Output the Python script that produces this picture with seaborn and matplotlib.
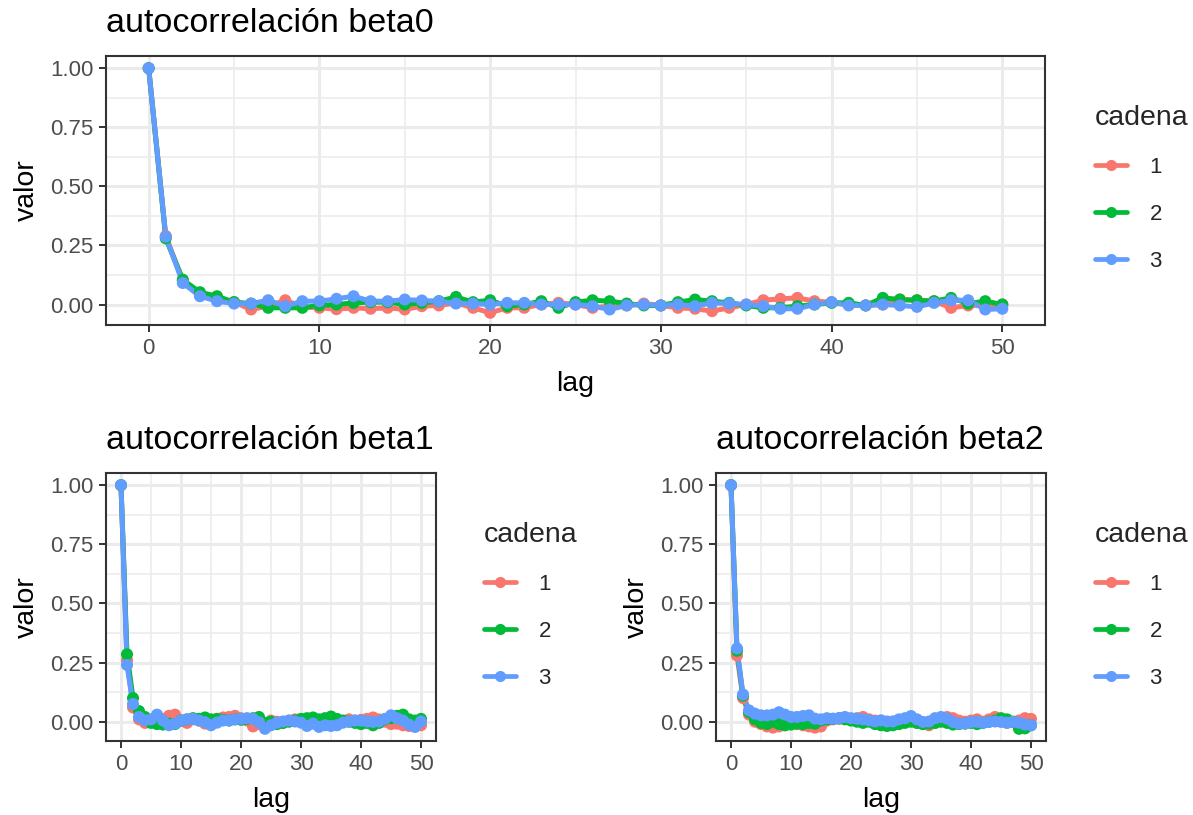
import numpy as np
import pandas as pd
import matplotlib
matplotlib.use("Agg")
import matplotlib.pyplot as plt
from matplotlib.lines import Line2D
import seaborn as sns

sns.set_theme(style="white")
plt.rcParams['font.family'] = ['Liberation Sans', 'DejaVu Sans']

chains = ["1", "2", "3"]
colors = ["#F8766D", "#00BA38", "#619CFF"]
titles = ["autocorrelación beta0", "autocorrelación beta1", "autocorrelación beta2"]
x_ticks = [0, 10, 20, 30, 40, 50]
y_ticks = [0.0, 0.25, 0.5, 0.75, 1.0]
y_tick_labels = ["0.00", "0.25", "0.50", "0.75", "1.00"]

beta0_c1 = [1.0, 0.29, 0.10, 0.045, 0.02, 0.01, -0.021, -0.007, 0.018, -0.010, -0.014, -0.020, -0.014,
            -0.018, -0.014, -0.021, -0.007, -0.004, 0.007, -0.014, -0.035, -0.014, -0.014, 0.0, 0.007,
            0.0, -0.014, -0.007, -0.004, 0.004, -0.004, -0.014, -0.018, -0.028, -0.014, 0.0, 0.018,
            0.024, 0.028, 0.014, 0.010, 0.0, -0.004, 0.0, 0.021, 0.018, 0.014, -0.014, -0.004, -0.004, 0.0]
beta0_c2 = [1.0, 0.28, 0.105, 0.052, 0.035, 0.01, 0.004, -0.014, -0.014, -0.014, -0.004, 0.0, 0.007,
            0.010, 0.010, 0.0, 0.007, 0.014, 0.032, 0.010, 0.018, -0.007, 0.0, 0.014, -0.014, 0.010,
            0.018, 0.014, 0.004, -0.004, -0.004, 0.010, 0.021, 0.014, 0.007, -0.004, -0.014, -0.014,
            -0.007, 0.0, 0.007, 0.007, -0.004, 0.028, 0.021, 0.018, 0.014, 0.028, 0.004, 0.014, 0.0]
beta0_c3 = [1.0, 0.287, 0.091, 0.035, 0.014, 0.004, 0.004, 0.018, -0.007, 0.014, 0.014, 0.024, 0.035,
            0.014, 0.014, 0.021, 0.017, 0.014, 0.004, 0.004, 0.0, 0.007, 0.007, 0.0, 0.0, 0.0, -0.007,
            -0.021, -0.004, 0.0, -0.004, 0.0, -0.007, 0.007, 0.004, 0.0, -0.007, -0.018, -0.018, 0.0,
            0.010, -0.004, -0.004, 0.0, -0.004, -0.010, 0.007, 0.018, 0.018, -0.021, -0.018]

beta1_c1 = [1.0, 0.26, 0.06, 0.01, -0.005, 0.005, 0.008, 0.012, 0.025, 0.03, 0.005, -0.005, 0.01,
            0.005, -0.008, 0.0, 0.012, 0.018, 0.02, 0.025, 0.015, 0.005, -0.02, -0.01, -0.015, 0.005,
            0.0, -0.005, 0.005, 0.01, 0.0, -0.01, 0.005, 0.0, -0.005, 0.008, 0.005, 0.0, 0.01, 0.005,
            0.008, 0.012, 0.018, 0.01, 0.0, -0.01, -0.008, -0.015, -0.018, -0.02, -0.015]
beta1_c2 = [1.0, 0.285, 0.10, 0.045, 0.02, -0.005, -0.01, -0.012, -0.008, -0.01, 0.005, 0.01, 0.015,
            0.012, 0.018, 0.01, 0.012, 0.008, 0.005, 0.01, 0.008, 0.012, 0.015, 0.02, -0.005, 0.0,
            -0.01, -0.005, 0.0, 0.005, 0.012, 0.015, 0.018, 0.01, 0.015, 0.022, 0.012, 0.005, 0.0,
            -0.005, -0.01, -0.005, -0.015, -0.005, 0.01, 0.015, 0.025, 0.03, 0.01, 0.005, 0.012]
beta1_c3 = [1.0, 0.24, 0.075, 0.02, 0.006, 0.01, 0.03, 0.005, -0.015, -0.008, 0.005, 0.01, 0.012,
            0.005, -0.002, -0.015, -0.004, 0.005, 0.005, 0.01, 0.012, 0.015, 0.012, -0.002, -0.03,
            -0.015, -0.004, 0.001, 0.005, 0.001, -0.004, -0.018, -0.008, -0.022, -0.015, -0.018,
            -0.015, -0.004, 0.001, 0.005, 0.005, 0.001, -0.001, 0.001, 0.012, 0.027, 0.015, 0.005,
            -0.012, -0.022, 0.001]

beta2_c1 = [1.0, 0.28, 0.10, 0.03, 0.0, -0.01, -0.02, -0.025, -0.02, -0.015, -0.005, -0.01, -0.015,
            -0.02, -0.025, -0.02, 0.005, 0.01, 0.012, 0.015, 0.01, 0.015, 0.02, 0.01, 0.005, 0.0,
            -0.005, 0.0, 0.005, 0.01, 0.005, -0.005, -0.01, -0.015, -0.005, 0.01, 0.02, 0.015, 0.005,
            0.0, 0.005, 0.01, 0.0, 0.01, 0.02, 0.005, -0.005, 0.0, 0.005, 0.015, 0.012]
beta2_c2 = [1.0, 0.30, 0.11, 0.04, 0.01, -0.005, -0.01, 0.0, -0.01, -0.015, -0.012, -0.008, -0.01,
            -0.005, -0.008, 0.005, 0.01, 0.012, 0.015, 0.01, 0.005, 0.0, -0.005, 0.0, -0.01, -0.015,
            -0.018, -0.015, -0.01, -0.005, 0.0, -0.005, -0.01, -0.008, -0.005, 0.0, -0.005, -0.012,
            -0.01, -0.008, -0.005, -0.01, -0.005, 0.0, 0.005, 0.015, 0.01, 0.0, -0.03, -0.028, -0.015]
beta2_c3 = [1.0, 0.31, 0.115, 0.048, 0.034, 0.027, 0.027, 0.030, 0.040, 0.030, 0.020, 0.020, 0.024,
            0.027, 0.013, 0.010, 0.015, 0.013, 0.015, 0.020, 0.015, 0.013, 0.010, 0.006, 0.001, 0.006,
            0.001, 0.001, 0.010, 0.015, 0.024, 0.010, -0.001, 0.001, 0.015, 0.020, 0.013, -0.001,
            -0.008, -0.008, -0.001, -0.001, -0.004, -0.001, 0.001, -0.001, -0.004, -0.001, -0.004,
            -0.012, -0.015]

params = [
    [beta0_c1, beta0_c2, beta0_c3],
    [beta1_c1, beta1_c2, beta1_c3],
    [beta2_c1, beta2_c2, beta2_c3],
]


def make_df(series_list):
    rows = []
    for ch, vals in zip(chains, series_list):
        for lag, v in enumerate(vals):
            rows.append({"lag": lag, "valor": v, "cadena": ch})
    return pd.DataFrame(rows)


W, H = 1193, 815
fig = plt.figure(figsize=(W / 100, H / 100), dpi=100)


def px_axes(left, top, right, bottom):
    return fig.add_axes([left / W, 1 - bottom / H, (right - left) / W, (bottom - top) / H])


axes = [
    px_axes(106, 56, 1045, 325),
    px_axes(106, 473, 436, 741),
    px_axes(716, 473, 1046, 741),
]
legend_pos = [(1075, 85), (464, 502), (1075, 502)]

border = "#333333"
grid_c = "#EBEBEB"
palette = dict(zip(chains, colors))

for ax, series_list, title, lpos in zip(axes, params, titles, legend_pos):
    df = make_df(series_list)
    sns.lineplot(data=df, x="lag", y="valor", hue="cadena", palette=palette, ax=ax,
                 linewidth=3.6, legend=False, zorder=3)
    sns.scatterplot(data=df, x="lag", y="valor", hue="cadena", palette=palette, ax=ax,
                    s=75, linewidth=0, legend=False, zorder=4)
    vmin = df["valor"].min()
    vmax = df["valor"].max()
    rng = vmax - vmin
    ax.set_ylim(vmin - 0.05 * rng, vmax + 0.05 * rng)
    ax.set_xlim(-2.5, 52.5)
    ax.set_xticks(x_ticks)
    ax.set_yticks(y_ticks)
    ax.set_yticklabels(y_tick_labels)
    ax.set_xticks([5, 15, 25, 35, 45], minor=True)
    ax.set_yticks([0.125, 0.375, 0.625, 0.875], minor=True)
    ax.grid(True, which="major", color=grid_c, linewidth=2.2, zorder=0)
    ax.grid(True, which="minor", color=grid_c, linewidth=1.1, zorder=0)
    ax.set_axisbelow(True)
    ax.set_facecolor("white")
    for sp in ax.spines.values():
        sp.set_color(border)
        sp.set_linewidth(1.5)
        sp.set_visible(True)
    ax.tick_params(axis="both", which="major", direction="out", length=5.2, width=1.4,
                   color=border, labelcolor="#4D4D4D", labelsize=16, pad=4, bottom=True, left=True)
    ax.tick_params(axis="both", which="minor", length=0)
    ax.set_xlabel("lag", fontsize=20.5, color="black", labelpad=8.5)
    ax.set_ylabel("valor", fontsize=20.5, color="black", labelpad=7)
    ax.set_title(title, loc="left", fontsize=24.5, color="black", pad=17)

    handles = [Line2D([0], [0], color=c, linewidth=3.4, marker="o", markersize=8, markeredgewidth=0)
                for c in colors]
    leg = ax.legend(handles, chains, title="cadena", loc="upper left",
                    bbox_to_anchor=(lpos[0] / W, 1 - lpos[1] / H), bbox_transform=fig.transFigure,
                    frameon=False, fontsize=16, title_fontsize=20.5, handlelength=1.45,
                    handletextpad=1.0, labelspacing=1.17, alignment="left")

fig.savefig("out.png", dpi=100, facecolor="white")
